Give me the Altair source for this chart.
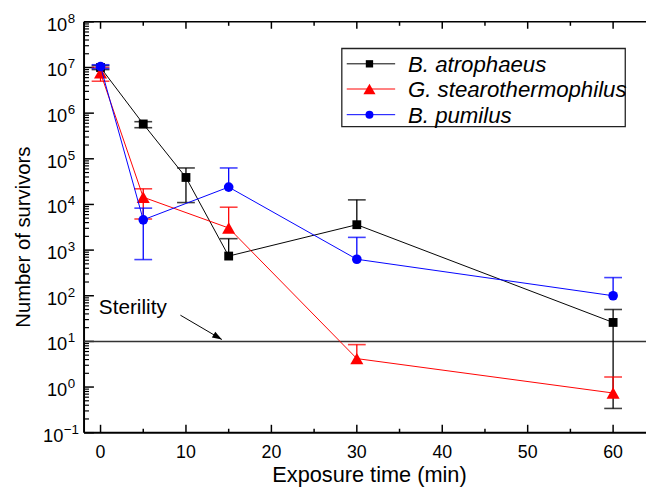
import altair as alt
import pandas as pd

# ---------------- data ----------------
series_names = ["B. atrophaeus", "G. stearothermophilus", "B. pumilus"]
series_colors = ["#000000", "#ff0000", "#0000ff"]
series_shapes = ["square", "triangle-up", "circle"]

atro_t = [0, 5, 10, 15, 30, 60]
atro_v = [1.0e7, 5.8e5, 3.9e4, 740, 3600, 26]
atro_lo = [9.0e6, 4.8e5, 1.1e4, 740, 3600, 0.34]
atro_hi = [1.1e7, 6.5e5, 6.3e4, 1780, 1.26e4, 50]

stea_t = [0, 5, 15, 30, 60]
stea_v = [7.6e6, 1.44e4, 3050, 4.2, 0.74]
stea_lo = [5.0e6, 4800, 3050, 4.2, 0.74]
stea_hi = [1.0e7, 2.2e4, 8700, 8.5, 1.66]

pum_t = [0, 5, 15, 30, 60]
pum_v = [1.05e7, 4600, 2.4e4, 630, 100]
pum_lo = [9.5e6, 620, 2.4e4, 630, 100]
pum_hi = [1.15e7, 8300, 6.3e4, 1900, 250]

sterility_level = [10]
sterility_label = ["Sterility"]
arrow_from = [9.35, 37.5]
arrow_to = [14.2, 11.0]

x_major = [0, 10, 20, 30, 40, 50, 60]
x_minor = [5, 15, 25, 35, 45, 55]
y_decades = [-1, 0, 1, 2, 3, 4, 5, 6, 7, 8]
y_minor_mult = [2, 3, 4, 5, 6, 7, 8, 9]

x_title = "Exposure time (min)"
y_title = "Number of survivors"

# ---------------- layout ----------------
W, H = 569, 416
FONT = "Liberation Sans, Arial, Helvetica, sans-serif"
xs = alt.Scale(domain=[-1.93, 63.85], nice=False, zero=False)
ys = alt.Scale(type="log", domain=[0.1, 1e8], nice=False)


def X(f):
    return alt.X(f, type="quantitative", scale=xs, axis=None)


def Y(f):
    return alt.Y(f, type="quantitative", scale=ys, axis=None)


dummy = pd.DataFrame({"a": [0]})
layers = []

# frame
layers.append(alt.Chart(dummy).mark_rule(color="black", strokeWidth=2).encode(
    x=alt.value(0), y=alt.value(0), y2=alt.value(H)))
layers.append(alt.Chart(dummy).mark_rule(color="black", strokeWidth=2).encode(
    x=alt.value(0), x2=alt.value(W), y=alt.value(H)))
layers.append(alt.Chart(dummy).mark_rule(color="black", strokeWidth=1.5).encode(
    x=alt.value(0), x2=alt.value(W), y=alt.value(0)))

# ticks
ymaj = pd.DataFrame({"v": [10.0 ** d for d in y_decades]})
ymin = pd.DataFrame({"v": [m * 10.0 ** d for d in y_decades[:-1] for m in y_minor_mult]})
layers.append(alt.Chart(ymaj).mark_rule(color="black", strokeWidth=1.5).encode(
    y=Y("v"), x=alt.value(0), x2=alt.value(10)))
layers.append(alt.Chart(ymin).mark_rule(color="black", strokeWidth=1.2).encode(
    y=Y("v"), x=alt.value(0), x2=alt.value(5)))
xmaj = pd.DataFrame({"t": x_major, "lab": [str(v) for v in x_major]})
xmin = pd.DataFrame({"t": x_minor})
layers.append(alt.Chart(xmaj).mark_rule(color="black", strokeWidth=1.5).encode(
    x=X("t"), y=alt.value(H), y2=alt.value(H - 8)))
layers.append(alt.Chart(xmaj).mark_rule(color="black", strokeWidth=1.5).encode(
    x=X("t"), y=alt.value(0), y2=alt.value(7)))
layers.append(alt.Chart(xmin).mark_rule(color="black", strokeWidth=1.5).encode(
    x=X("t"), y=alt.value(H), y2=alt.value(H - 4)))
layers.append(alt.Chart(xmin).mark_rule(color="black", strokeWidth=1.5).encode(
    x=X("t"), y=alt.value(0), y2=alt.value(4)))

# tick labels
layers.append(alt.Chart(xmaj).mark_text(font=FONT, fontSize=18, align="center",
                                         baseline="alphabetic", color="black").encode(
    x=X("t"), y=alt.value(H + 26), text="lab:N"))
ylab = pd.DataFrame({"d": y_decades, "v": [10.0 ** d for d in y_decades],
                     "exp": [str(d).replace("-", "\u2212") if d < 0 else str(d) for d in y_decades]})
ylab_pos = ylab[ylab["d"] >= 0]
ylab_neg = ylab[ylab["d"] < 0]
for sub, xo in ((ylab_pos, -17), (ylab_neg, -21)):
    layers.append(alt.Chart(sub).mark_text(font=FONT, fontSize=18.5, align="right",
                                            baseline="alphabetic", dy=9, color="black").encode(
        x=alt.value(xo), y=Y("v"), text=alt.value("10")))
    layers.append(alt.Chart(sub).mark_text(font=FONT, fontSize=13.5, align="left",
                                            baseline="alphabetic", dy=1, color="black").encode(
        x=alt.value(xo + 0.5), y=Y("v"), text="exp:N"))

# axis titles
layers.append(alt.Chart(dummy).mark_text(font=FONT, fontSize=22, align="center",
                                          baseline="alphabetic", color="black").encode(
    x=alt.value(289), y=alt.value(H + 50), text=alt.value(x_title)))
layers.append(alt.Chart(dummy).mark_text(font=FONT, fontSize=20.5, align="center",
                                          baseline="middle", angle=270, color="black").encode(
    x=alt.value(-61), y=alt.value(218), text=alt.value(y_title)))

# sterility line, label, arrow
ster = pd.DataFrame({"v": sterility_level})
layers.append(alt.Chart(ster).mark_rule(color="#333333", strokeWidth=1.5).encode(
    y=Y("v"), x=alt.value(0), x2=alt.value(W)))
lab = pd.DataFrame({"x": [-0.2], "y": [39.5], "text": sterility_label})
layers.append(alt.Chart(lab).mark_text(font=FONT, fontSize=21, align="left",
                                        baseline="alphabetic", color="black").encode(
    x=X("x"), y=Y("y"), text="text:N"))
arr = pd.DataFrame({"x1": [arrow_from[0]], "y1": [arrow_from[1]],
                    "x2": [arrow_to[0]], "y2": [arrow_to[1]]})
layers.append(alt.Chart(arr).mark_rule(color="black", strokeWidth=1).encode(
    x=X("x1"), y=Y("y1"), x2="x2", y2="y2"))
layers.append(alt.Chart(arr).mark_point(shape="M0,0 L-1,-0.35 L-1,0.35 Z", filled=True,
                                         color="black", opacity=1, size=380, angle=31).encode(
    x=X("x2"), y=Y("y2")))

# series
series_data = [
    (atro_t, atro_v, atro_lo, atro_hi, 80),
    (stea_t, stea_v, stea_lo, stea_hi, 175),
    (pum_t, pum_v, pum_lo, pum_hi, 95),
]
for (t, v, lo, hi, sz), color, shape in zip(series_data, series_colors, series_shapes):
    df = pd.DataFrame({"t": t, "v": v, "lo": lo, "hi": hi})
    caps = pd.DataFrame(
        [{"t": a, "c": h} for a, b, h in zip(t, v, hi) if h > b * 1.01]
        + [{"t": a, "c": l} for a, b, l in zip(t, v, lo) if l < b / 1.01])
    layers.append(alt.Chart(df).mark_line(color=color, strokeWidth=1).encode(
        x=X("t"), y=Y("v"), order="t:Q"))
    layers.append(alt.Chart(df).mark_rule(color=color, strokeWidth=1.3).encode(
        x=X("t"), y=Y("lo"), y2="hi"))
    layers.append(alt.Chart(caps).mark_tick(color=color, thickness=1.6, size=18,
                                             orient="horizontal", opacity=0.75).encode(
        x=X("t"), y=Y("c")))
    layers.append(alt.Chart(df).mark_point(shape=shape, filled=True, color=color,
                                            opacity=1, size=sz).encode(
        x=X("t"), y=Y("v")))

# legend (drawn)
layers.append(alt.Chart(dummy).mark_rect(fill="white", stroke="#222222", strokeWidth=1.3).encode(
    x=alt.value(261), x2=alt.value(548), y=alt.value(27), y2=alt.value(106)))
leg_rows = [42.5, 68, 94]
leg_sizes = [55, 150, 65]
for name, color, shape, ry, ls in zip(series_names, series_colors, series_shapes, leg_rows, leg_sizes):
    layers.append(alt.Chart(dummy).mark_rule(color=color, strokeWidth=1).encode(
        x=alt.value(266), x2=alt.value(315), y=alt.value(ry)))
    layers.append(alt.Chart(dummy).mark_point(shape=shape, filled=True, color=color,
                                               opacity=1, size=ls).encode(
        x=alt.value(289), y=alt.value(ry)))
    layers.append(alt.Chart(dummy).mark_text(font=FONT, fontSize=22.5, fontStyle="italic",
                                              align="left", baseline="middle", color="black").encode(
        x=alt.value(328), y=alt.value(ry + 1), text=alt.value(name)))

chart = alt.layer(*layers).properties(
    width=W, height=H,
    padding={"left": 77, "top": 11, "right": 0, "bottom": 55},
    autosize=alt.AutoSizeParams(type="none"),
).configure_view(stroke=None)

chart.save("out.html", embed_options={"renderer": "svg", "actions": False})
